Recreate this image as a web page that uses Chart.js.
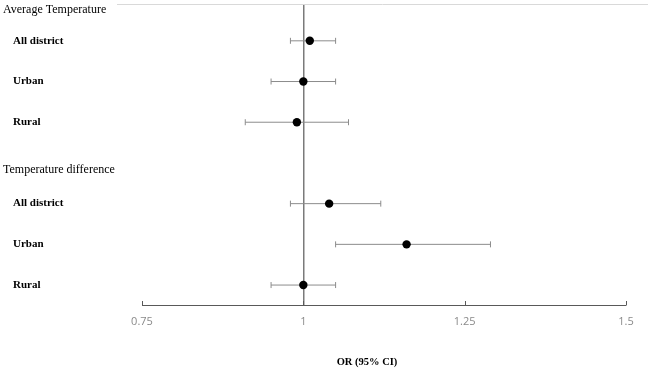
<!DOCTYPE html>
<html>
<head>
<meta charset="utf-8">
<script src="https://cdn.jsdelivr.net/npm/chart.js@4"></script>
<style>
  html, body { margin: 0; padding: 0; background: #fff; }
  #wrap { width: 654px; height: 371px; }
</style>
</head>
<body>
<div id="wrap"><canvas id="myChart"></canvas></div>
<script>
const rowLabels = ["All district", "Urban", "Rural", "All district", "Urban", "Rural"];
const rowPos = [0, 1, 2, 4, 5, 6];
const groupLabels = ["Average Temperature", "Temperature difference"];
const groupPos = [-0.76, 3.18];
const orValues = [1.01, 1.0, 0.99, 1.04, 1.16, 1.0];
const ciLower = [0.98, 0.95, 0.91, 0.98, 1.05, 0.95];
const ciUpper = [1.05, 1.05, 1.07, 1.12, 1.29, 1.05];
const xTicks = [0.75, 1, 1.25, 1.5];
const tickLabels = ["0.75", "1", "1.25", "1.5"];

const serif = "'Liberation Serif', 'DejaVu Serif', serif";

// one small line per CI, caps drawn as rotated line points
const ciSets = rowPos.map(function (y, i) {
  return {
    data: [{ x: ciLower[i], y: y }, { x: ciUpper[i], y: y }],
    showLine: true,
    borderColor: "#8c8c8c",
    borderWidth: 1,
    pointStyle: "line",
    rotation: 90,
    pointRadius: 3,
    pointBorderWidth: 1,
    pointBorderColor: "#8c8c8c",
    order: 2,
  };
});

const pointSet = {
  data: rowPos.map(function (y, i) {
    return { x: orValues[i], y: y };
  }),
  pointRadius: 4.2,
  backgroundColor: "#000",
  borderColor: "#000",
  borderWidth: 0,
  order: 1,
};

const extras = {
  id: "extras",
  beforeDraw: function (chart) {
    const ctx = chart.ctx;
    const area = chart.chartArea;
    ctx.save();
    ctx.strokeStyle = "#d9d9d9";
    ctx.lineWidth = 1;
    ctx.beginPath();
    ctx.moveTo(117, area.top - 0.5);
    ctx.lineTo(648, area.top - 0.5);
    ctx.stroke();
    ctx.restore();
  },
  afterDraw: function (chart) {
    const ctx = chart.ctx;
    const xs = chart.scales.x;
    const ys = chart.scales.y;
    const area = chart.chartArea;
    ctx.save();
    // small inward tick marks
    ctx.strokeStyle = "#595959";
    ctx.lineWidth = 1;
    xTicks.forEach(function (v) {
      const px = Math.round(xs.getPixelForValue(v)) + 0.5;
      ctx.beginPath();
      ctx.moveTo(px, area.bottom);
      ctx.lineTo(px, area.bottom - 4);
      ctx.stroke();
    });
    ctx.fillStyle = "#000";
    ctx.textBaseline = "middle";
    ctx.textAlign = "left";
    ctx.font = "12px " + serif;
    groupLabels.forEach(function (t, i) {
      ctx.fillText(t, 3, ys.getPixelForValue(groupPos[i]));
    });
    ctx.font = "bold 11px " + serif;
    rowLabels.forEach(function (t, i) {
      ctx.fillText(t, 13, ys.getPixelForValue(rowPos[i]));
    });
    ctx.textAlign = "center";
    ctx.font = "bold 10.5px " + serif;
    ctx.fillText("OR (95% CI)", 367, 362);
    ctx.restore();
  },
};

const myChart = new Chart(document.getElementById("myChart"), {
  type: "scatter",
  data: { datasets: ciSets.concat([pointSet]) },
  options: {
    responsive: true,
    maintainAspectRatio: false,
    animation: false,
    layout: { padding: { left: 142, right: 28, top: 4, bottom: 0 } },
    plugins: { legend: { display: false }, tooltip: { enabled: false } },
    scales: {
      x: {
        type: "linear",
        min: 0.75,
        max: 1.5,
        afterBuildTicks: function (scale) {
          scale.ticks = xTicks.map(function (v) {
            return { value: v };
          });
        },
        afterFit: function (scale) {
          scale.height = 66;
        },
        border: { color: "#595959", width: 1 },
        grid: {
          drawTicks: false,
          lineWidth: 1.5,
          color: function (c) {
            return c.tick && c.tick.value === 1 ? "#7a7a7a" : "rgba(0,0,0,0)";
          },
        },
        ticks: {
          padding: 10,
          color: "#8a8a8a",
          font: { family: "'Open Sans', sans-serif", size: 11 },
          callback: function (v, i) {
            return tickLabels[i];
          },
        },
      },
      y: {
        type: "linear",
        display: false,
        reverse: true,
        min: -0.88,
        max: 6.49,
      },
    },
  },
  plugins: [extras],
});
</script>
</body>
</html>
